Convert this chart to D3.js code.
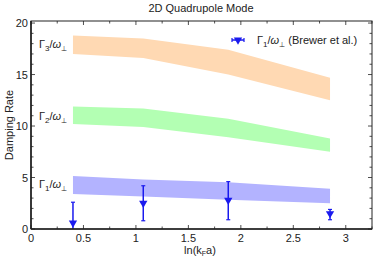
<!DOCTYPE html>
<html>
<head>
<meta charset="utf-8">
<script src="https://cdn.jsdelivr.net/npm/d3@7"></script>
<style>
  body { margin: 0; background: #fff; }
  text { font-family: "Liberation Sans", Arial, sans-serif; fill: #222; }
</style>
</head>
<body>
<svg id="chart" width="374" height="260"></svg>
<script>
// data
var xs = [0.4, 1.07, 1.88, 2.85];
var g3Hi = [18.8, 18.5, 17.4, 14.7], g3Lo = [17.0, 16.6, 15.0, 12.5];
var g2Hi = [11.9, 11.7, 10.7, 8.8],  g2Lo = [10.2, 9.9, 8.9, 7.5];
var g1Hi = [5.15, 4.8, 4.55, 3.9],   g1Lo = [3.4, 3.15, 2.85, 2.5];
var expX = [0.4, 1.07, 1.88, 2.85];
var expY = [0.6, 2.5, 2.8, 1.5];
var expHi = [2.6, 4.2, 4.6, 1.9];
var expLo = [-1.4, 0.8, 0.9, 0.9];
var bandNames = ["3", "2", "1"];

var svg = d3.select("#chart");
var m = {l: 31, r: 372, t: 21, b: 229};
var x = d3.scaleLinear().domain([0, 3.25]).range([m.l, m.r]);
var y = d3.scaleLinear().domain([0, 20.2]).range([m.b, m.t]);

var bands = [
  {hi: g3Hi, lo: g3Lo, color: "#ffd9b3", name: bandNames[0]},
  {hi: g2Hi, lo: g2Lo, color: "#b3ffb3", name: bandNames[1]},
  {hi: g1Hi, lo: g1Lo, color: "#b3b3ff", name: bandNames[2]}
];

var area = d3.area()
  .x(function(d){ return x(d.x); })
  .y0(function(d){ return y(d.lo); })
  .y1(function(d){ return y(d.hi); });

svg.append("defs").append("clipPath").attr("id", "clip")
  .append("rect").attr("x", m.l).attr("y", m.t).attr("width", m.r - m.l).attr("height", m.b - m.t);

var plot = svg.append("g").attr("clip-path", "url(#clip)");

bands.forEach(function(b){
  var pts = xs.map(function(v, i){ return {x: v, hi: b.hi[i], lo: b.lo[i]}; });
  plot.append("path").attr("d", area(pts)).attr("fill", b.color);
});

// band labels
function gammaLabel(g, sub) {
  var t = g.append("text").attr("font-size", 11);
  t.append("tspan").text("Γ");
  t.append("tspan").attr("font-size", 8).attr("dy", 3).text(sub);
  t.append("tspan").attr("dy", -3).text("/");
  t.append("tspan").attr("font-style", "italic").text("ω");
  t.append("tspan").attr("font-size", 7).attr("dy", 3).text("⊥");
  return t;
}
var labelY = [48, 120, 188];
bands.forEach(function(b, i){
  gammaLabel(svg.append("g").attr("transform", "translate(39," + labelY[i] + ")"), b.name);
});

// experimental points
var blue = "#1a1aee";
var pts = plot.selectAll(".exp").data(expX.map(function(v, i){
  return {x: v, y: expY[i], hi: expHi[i], lo: expLo[i]};
})).enter().append("g").attr("class", "exp");
pts.append("line")
  .attr("x1", function(d){ return x(d.x); }).attr("x2", function(d){ return x(d.x); })
  .attr("y1", function(d){ return y(d.hi); }).attr("y2", function(d){ return y(d.lo); })
  .attr("stroke", blue).attr("stroke-width", 1.5);
pts.selectAll(".cap").data(function(d){ return [{x: d.x, v: d.hi}, {x: d.x, v: d.lo}]; })
  .enter().append("line")
  .attr("x1", function(d){ return x(d.x) - 2; }).attr("x2", function(d){ return x(d.x) + 2; })
  .attr("y1", function(d){ return y(d.v); }).attr("y2", function(d){ return y(d.v); })
  .attr("stroke", blue).attr("stroke-width", 1.2);
var tri = d3.symbol().type(d3.symbolTriangle).size(30);
pts.append("path").attr("d", tri)
  .attr("transform", function(d){ return "translate(" + x(d.x) + "," + y(d.y) + ") rotate(180)"; })
  .attr("fill", blue);

// axes and frame
var xTicks = d3.range(0, 3.01, 0.5), xMinor = d3.range(0, 3.26, 0.25);
var yTicks = d3.range(0, 20.1, 5), yMinor = d3.range(0, 20.3, 1);
var fmt = function(d){ return d3.format("~g")(d); };

var ax = svg.append("g");
ax.append("rect").attr("x", m.l).attr("y", m.t).attr("width", m.r - m.l).attr("height", m.b - m.t)
  .attr("fill", "none").attr("stroke", "#222").attr("stroke-width", 1);
ax.append("line").attr("x1", m.l).attr("x2", m.r).attr("y1", m.b).attr("y2", m.b).attr("stroke", "#222").attr("stroke-width", 1.6);
ax.append("line").attr("x1", m.l).attr("x2", m.l).attr("y1", m.t).attr("y2", m.b).attr("stroke", "#222").attr("stroke-width", 1.6);

xMinor.forEach(function(v){
  var major = Math.abs(v * 2 - Math.round(v * 2)) < 1e-6;
  var len = major ? 4 : 2.5;
  ax.append("line").attr("x1", x(v)).attr("x2", x(v)).attr("y1", m.b).attr("y2", m.b - len).attr("stroke", "#222").attr("stroke-width", 0.8);
  ax.append("line").attr("x1", x(v)).attr("x2", x(v)).attr("y1", m.t).attr("y2", m.t + len).attr("stroke", "#222").attr("stroke-width", 0.8);
});
yMinor.forEach(function(v){
  var len = v % 5 === 0 ? 4 : 2.5;
  ax.append("line").attr("x1", m.l).attr("x2", m.l + len).attr("y1", y(v)).attr("y2", y(v)).attr("stroke", "#222").attr("stroke-width", 0.8);
  ax.append("line").attr("x1", m.r).attr("x2", m.r - len).attr("y1", y(v)).attr("y2", y(v)).attr("stroke", "#222").attr("stroke-width", 0.8);
});

ax.selectAll(".xt").data(xTicks).enter().append("text")
  .attr("x", function(d){ return x(d); }).attr("y", m.b + 13)
  .attr("text-anchor", "middle").attr("font-size", 11).text(fmt);
ax.selectAll(".yt").data(yTicks).enter().append("text")
  .attr("x", m.l - 3).attr("y", function(d){ return y(d) + 4; })
  .attr("text-anchor", "end").attr("font-size", 11).text(fmt);

// axis titles
var xl = svg.append("text").attr("x", 200).attr("y", 254).attr("text-anchor", "middle").attr("font-size", 11);
xl.append("tspan").text("ln(k");
xl.append("tspan").attr("font-size", 7).attr("dy", 2).text("F");
xl.append("tspan").attr("dy", -2).text("a)");

svg.append("text").attr("transform", "translate(13,125) rotate(-90)")
  .attr("text-anchor", "middle").attr("font-size", 11).text("Damping Rate");

svg.append("text").attr("x", 201).attr("y", 12).attr("text-anchor", "middle")
  .attr("font-size", 11).text("2D Quadrupole Mode");

// legend
var lg = svg.append("g").attr("transform", "translate(238,40)");
lg.append("line").attr("x1", -6).attr("x2", 6).attr("y1", 0).attr("y2", 0).attr("stroke", blue).attr("stroke-width", 1.5);
lg.append("line").attr("x1", -6).attr("x2", -6).attr("y1", -2).attr("y2", 2).attr("stroke", blue).attr("stroke-width", 1.2);
lg.append("line").attr("x1", 6).attr("x2", 6).attr("y1", -2).attr("y2", 2).attr("stroke", blue).attr("stroke-width", 1.2);
lg.append("path").attr("d", tri).attr("transform", "rotate(180)").attr("fill", blue);
var lt = gammaLabel(lg.append("g").attr("transform", "translate(19,4)"), "1");
lt.append("tspan").attr("dy", -3).text(" (Brewer et al.)");
</script>
</body>
</html>
